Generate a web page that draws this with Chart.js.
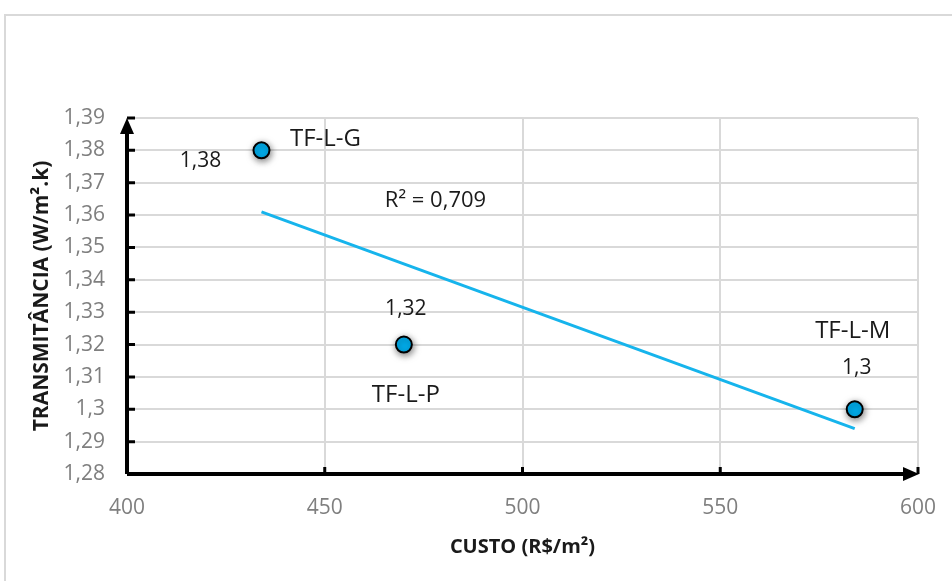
<!DOCTYPE html>
<html>
<head>
<meta charset="utf-8">
<script src="https://cdn.jsdelivr.net/npm/chart.js@4.4.1/dist/chart.umd.min.js"></script>
<style>
    html, body { margin: 0; padding: 0; background: #fff; overflow: hidden; }
    #wrap { position: relative; width: 952px; height: 581px; }
    #frame {
        position: absolute; left: 4px; top: 14px; width: 1200px; height: 1200px;
        border: 2px solid #d9d9d9; pointer-events: none;
    }
</style>
</head>
<body>
<div id="wrap">
    <canvas id="chart" width="952" height="581"></canvas>
    <div id="frame"></div>
</div>
<script>
const costs = [434, 470, 584];
const transmittance = [1.38, 1.32, 1.30];
const names = ['TF-L-G', 'TF-L-P', 'TF-L-M'];
const valueLabels = ['1,38', '1,32', '1,3'];
const trendX = [434, 584];
const trendY = [1.361, 1.294];
const r2Text = 'R² = 0,709';
const r2At = [478, 1.3645];
const xTicks = [400, 450, 500, 550, 600];
const yTicks = [1.28, 1.29, 1.30, 1.31, 1.32, 1.33, 1.34, 1.35, 1.36, 1.37, 1.38, 1.39];

const FONT = '"Open Sans", "DejaVu Sans", sans-serif';
Chart.defaults.font.family = FONT;

const pointData = costs.map((c, i) => ({ x: c, y: transmittance[i] }));
const trendData = trendX.map((c, i) => ({ x: c, y: trendY[i] }));

function fmt(v) {
    return String(+v.toFixed(2)).replace('.', ',');
}

// label offsets relative to each point: [name dx, name dy, value dx, value dy]
const labelOffsets = [
    [64, -11, -61, 11],
    [2, 51, 2, -36],
    [-2, -78, 2, -41]
];

const axesPlugin = {
    id: 'axesPlugin',
    beforeDatasetsDraw(chart) {
        const { ctx, chartArea: a, scales } = chart;
        ctx.save();
        ctx.strokeStyle = '#000';
        ctx.fillStyle = '#000';
        ctx.lineWidth = 3;
        // inner tick marks
        ctx.beginPath();
        yTicks.forEach(v => {
            const y = scales.y.getPixelForValue(v);
            ctx.moveTo(a.left, y);
            ctx.lineTo(a.left + 8, y);
        });
        xTicks.slice(1).forEach(v => {
            const x = scales.x.getPixelForValue(v);
            ctx.moveTo(x, a.bottom);
            ctx.lineTo(x, a.bottom - 7);
        });
        ctx.stroke();
        // axis lines
        ctx.lineWidth = 4;
        ctx.beginPath();
        ctx.moveTo(a.left, a.bottom);
        ctx.lineTo(a.left, a.top + 10);
        ctx.moveTo(a.left, a.bottom);
        ctx.lineTo(a.right - 10, a.bottom);
        ctx.stroke();
        // arrows
        ctx.beginPath();
        ctx.moveTo(a.left, a.top);
        ctx.lineTo(a.left - 7, a.top + 16);
        ctx.lineTo(a.left + 7, a.top + 16);
        ctx.closePath();
        ctx.fill();
        ctx.beginPath();
        ctx.moveTo(a.right + 1, a.bottom);
        ctx.lineTo(a.right - 15, a.bottom - 7);
        ctx.lineTo(a.right - 15, a.bottom + 7);
        ctx.closePath();
        ctx.fill();
        ctx.restore();
    },
    beforeDatasetDraw(chart, args) {
        if (args.index === 1) {
            const ctx = chart.ctx;
            ctx.save();
            ctx.shadowColor = 'rgba(0,0,0,0.5)';
            ctx.shadowBlur = 7;
            ctx.shadowOffsetX = 1;
            ctx.shadowOffsetY = 2;
        }
    },
    afterDatasetDraw(chart, args) {
        if (args.index === 1) chart.ctx.restore();
    },
    afterDatasetsDraw(chart) {
        const { ctx, scales } = chart;
        const meta = chart.getDatasetMeta(1);
        ctx.save();
        ctx.fillStyle = '#1a1a1a';
        ctx.textAlign = 'center';
        ctx.textBaseline = 'middle';
        meta.data.forEach((pt, i) => {
            const o = labelOffsets[i];
            ctx.font = '24px ' + FONT;
            ctx.fillText(names[i], pt.x + o[0], pt.y + o[1]);
            ctx.font = '21px ' + FONT;
            ctx.fillText(valueLabels[i], pt.x + o[2], pt.y + o[3]);
        });
        ctx.font = '22px ' + FONT;
        ctx.fillText(r2Text, scales.x.getPixelForValue(r2At[0]), scales.y.getPixelForValue(r2At[1]));
        ctx.restore();
    }
};

const ctx = document.getElementById('chart').getContext('2d');
const chart = new Chart(ctx, {
    type: 'scatter',
    data: {
        datasets: [
            {
                type: 'line',
                label: 'Linear',
                data: trendData,
                borderColor: '#16b4ec',
                borderWidth: 3,
                pointRadius: 0,
                showLine: true,
                fill: false
            },
            {
                label: 'Transmitância',
                data: pointData,
                backgroundColor: '#00b0f0',
                borderColor: '#000',
                borderWidth: 2,
                pointRadius: 8,
                pointHoverRadius: 8
            }
        ]
    },
    options: {
        responsive: false,
        animation: false,
        events: [],
        layout: { padding: { top: 118, right: 34, left: 0, bottom: 0 } },
        plugins: {
            legend: { display: false },
            tooltip: { enabled: false }
        },
        scales: {
            x: {
                type: 'linear',
                min: 400,
                max: 600,
                afterBuildTicks: s => { s.ticks = xTicks.map(v => ({ value: v })); },
                afterFit: s => {
                    s.height = 107;
                    s.paddingLeft = 0;
                    s.paddingRight = 0;
                },
                grid: { color: '#d9d9d9', lineWidth: 2, drawTicks: false },
                border: { display: false },
                ticks: {
                    color: '#7f7f7f',
                    font: { size: 21 },
                    padding: 21,
                    maxRotation: 0,
                    callback: v => fmt(v)
                },
                title: {
                    display: true,
                    text: 'CUSTO (R$/m²)',
                    color: '#1a1a1a',
                    font: { size: 20, weight: 'bold' },
                    padding: { top: 0, bottom: 22 }
                }
            },
            y: {
                type: 'linear',
                min: 1.28,
                max: 1.39,
                afterBuildTicks: s => { s.ticks = yTicks.map(v => ({ value: v })); },
                afterFit: s => { s.width = 127; },
                grid: { color: '#d9d9d9', lineWidth: 2, drawTicks: false },
                border: { display: false },
                ticks: {
                    color: '#7f7f7f',
                    font: { size: 21 },
                    padding: 22,
                    callback: v => fmt(v)
                },
                title: {
                    display: true,
                    text: 'TRANSMITÂNCIA (W/m².k)',
                    color: '#1a1a1a',
                    font: { size: 21, weight: 'bold' },
                    padding: { top: 29, bottom: 0 }
                }
            }
        }
    },
    plugins: [axesPlugin]
});
</script>
</body>
</html>
